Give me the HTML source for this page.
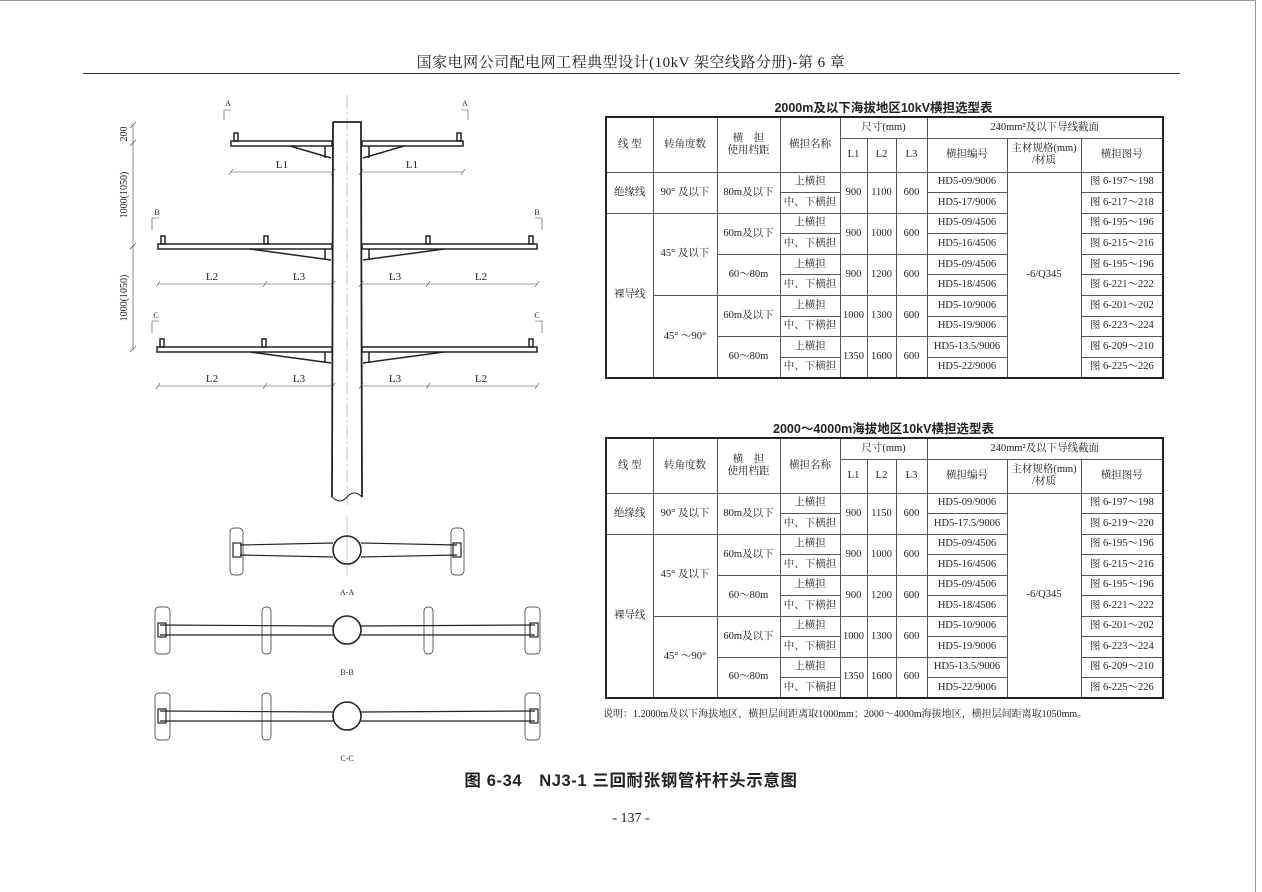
<!DOCTYPE html>
<html><head><meta charset="utf-8"><style>
body{margin:0;width:1262px;height:892px;background:#fff;position:relative;overflow:hidden;font-family:"Liberation Serif","Noto Serif CJK SC",serif;color:#222}
.abs{position:absolute}
table{border-collapse:collapse;position:absolute;left:605px;width:557px;table-layout:fixed;border:2px solid #222;font-size:10.5px}
td{border:1px solid #555;text-align:center;padding:0;line-height:12px;white-space:nowrap;overflow:hidden}
.t{font-family:"Liberation Sans","Noto Sans CJK SC",sans-serif;font-size:12.5px;font-weight:bold;left:605px;width:557px;text-align:center}
</style></head><body>
<div class="abs" style="left:0;top:0;width:1255px;height:891px;border-top:1px solid #999;border-right:1px solid #999"></div>
<div class="abs" style="left:0;top:51px;width:1262px;text-align:center;font-size:15px;letter-spacing:0.5px;font-family:'Liberation Serif','Noto Serif CJK SC',serif">国家电网公司配电网工程典型设计(10kV 架空线路分册)-第 6 章</div>
<div class="abs" style="left:83px;top:73px;width:1097px;height:1px;background:#333"></div>

<svg class="abs" style="left:0;top:0" width="600" height="780" viewBox="0 0 600 780" font-family="Liberation Serif" font-size="10" fill="none" stroke="#222">
<line x1="347" y1="95" x2="347" y2="505" stroke="#999" stroke-width="0.6" stroke-dasharray="14 3 2 3"/>
<path d="M333 122 H361 L362 497 M333 122 L332 497" stroke-width="1.8"/>
<path d="M332 497 Q340 505 347 497 Q354 489 362 497" stroke-width="1"/>
<g stroke-width="1.5">
<rect x="231" y="141" width="101" height="5"/><path d="M290 146 L331 158 M325 146 V158"/>
<rect x="362" y="141" width="101" height="5"/><path d="M404 146 L363 158 M369 146 V158"/>
<rect x="234" y="133" width="4" height="8"/><rect x="457" y="133" width="4" height="8"/>
<rect x="158" y="244" width="174" height="5"/><path d="M250 249 L331 260 M325 249 V260"/>
<rect x="362" y="244" width="175" height="5"/><path d="M444 249 L363 260 M369 249 V260"/>
<rect x="161" y="236" width="4" height="8"/><rect x="264" y="236" width="4" height="8"/><rect x="426" y="236" width="4" height="8"/><rect x="529" y="236" width="4" height="8"/>
<rect x="157" y="347" width="175" height="5"/><path d="M250 352 L331 363 M325 352 V363"/>
<rect x="362" y="347" width="175" height="5"/><path d="M444 352 L363 363 M369 352 V363"/>
<rect x="160" y="339" width="4" height="8"/><rect x="262" y="339" width="4" height="8"/><rect x="529" y="339" width="4" height="8"/>
</g>
<g stroke-width="0.6" stroke="#444">
<path d="M231 172 H333 M361 172 H463 M158 284 H333 M361 284 H537 M158 386 H333 M361 386 H537"/>
<path d="M229 175 l4 -6 M331 175 l4 -6 M359 175 l4 -6 M461 175 l4 -6"/>
<path d="M156 287 l4 -6 M263 287 l4 -6 M331 287 l4 -6 M359 287 l4 -6 M426 287 l4 -6 M535 287 l4 -6"/>
<path d="M156 389 l4 -6 M263 389 l4 -6 M331 389 l4 -6 M359 389 l4 -6 M426 389 l4 -6 M535 389 l4 -6"/>
<path d="M133 124 V350 M130 128 l6 -6 M130 146 l6 -6 M130 249 l6 -6 M130 352 l6 -6"/>
<path d="M224 110 V120 M224 110 H231 M468 110 V120 M468 110 H461 M152 218 V230 M152 218 H159 M542 218 V230 M542 218 H535 M152 321 V333 M152 321 H159 M542 321 V333 M542 321 H535"/>
</g>
<g fill="#222" stroke="none" text-anchor="middle">
<text x="282" y="168" font-size="11">L1</text><text x="412" y="168" font-size="11">L1</text>
<text x="212" y="280" font-size="11">L2</text><text x="299" y="280" font-size="11">L3</text><text x="395" y="280" font-size="11">L3</text><text x="481" y="280" font-size="11">L2</text>
<text x="212" y="382" font-size="11">L2</text><text x="299" y="382" font-size="11">L3</text><text x="395" y="382" font-size="11">L3</text><text x="481" y="382" font-size="11">L2</text>
<text x="228" y="106" font-size="8">A</text><text x="465" y="106" font-size="8">A</text>
<text x="157" y="215" font-size="8">B</text><text x="537" y="215" font-size="8">B</text>
<text x="156" y="318" font-size="8">C</text><text x="537" y="318" font-size="8">C</text>
<text transform="translate(127,134) rotate(-90)" font-size="10">200</text>
<text transform="translate(127,195) rotate(-90)" font-size="10">1000(1050)</text>
<text transform="translate(127,298) rotate(-90)" font-size="10">1000(1050)</text>
<text x="347" y="595" font-size="8">A-A</text><text x="347" y="675" font-size="8">B-B</text><text x="347" y="761" font-size="8">C-C</text>
</g>
<g stroke-width="1.2">
<line x1="347" y1="515" x2="347" y2="575" stroke="#999" stroke-width="0.5"/>
<path d="M240 545 L333 543 M240 555 L333 557 M361 543 L457 545 M361 557 L457 555"/>
<circle cx="347" cy="550" r="14" stroke-width="1.6"/>
<rect x="230" y="528" width="13" height="47" rx="4" stroke-width="0.7"/><rect x="451" y="528" width="13" height="47" rx="4" stroke-width="0.7"/>
<rect x="233" y="543" width="8" height="14"/><rect x="453" y="543" width="8" height="14"/>
<path d="M160 625 L333 626 M160 635 L333 635 M361 626 L535 625 M361 635 L535 635"/>
<circle cx="347" cy="630" r="14" stroke-width="1.6"/>
<rect x="155" y="607" width="15" height="47" rx="4" stroke-width="0.7"/><rect x="262" y="607" width="9" height="47" rx="4" stroke-width="0.7"/><rect x="424" y="607" width="9" height="47" rx="4" stroke-width="0.7"/><rect x="525" y="607" width="15" height="47" rx="4" stroke-width="0.7"/>
<rect x="158" y="623" width="8" height="14"/><rect x="530" y="623" width="8" height="14"/>
<path d="M160 711 L333 712 M160 721 L333 721 M361 712 L535 711 M361 721 L535 721"/>
<circle cx="347" cy="716" r="14" stroke-width="1.6"/>
<rect x="155" y="693" width="15" height="47" rx="4" stroke-width="0.7"/><rect x="262" y="693" width="9" height="47" rx="4" stroke-width="0.7"/><rect x="525" y="693" width="15" height="47" rx="4" stroke-width="0.7"/>
<rect x="158" y="709" width="8" height="14"/><rect x="530" y="709" width="8" height="14"/>
</g>
</svg>

<div class="abs t" style="top:97px">2000m及以下海拔地区10kV横担选型表</div>
<table style="top:116px">
<colgroup><col style="width:47px"><col style="width:64px"><col style="width:63px"><col style="width:60px"><col style="width:27px"><col style="width:29px"><col style="width:31px"><col style="width:80px"><col style="width:74px"><col style="width:82px"></colgroup>
<tr style="height:21px"><td rowspan="2">线 型</td><td rowspan="2">转角度数</td><td rowspan="2">横&nbsp;&nbsp;&nbsp;&nbsp;担<br>使用档距</td><td rowspan="2">横担名称</td><td colspan="3">尺寸(mm)</td><td colspan="3">240mm²及以下导线截面</td></tr>
<tr style="height:34px"><td>L1</td><td>L2</td><td>L3</td><td>横担编号</td><td>主材规格(mm)<br>/材质</td><td>横担图号</td></tr>
<tr style="height:20.6px"><td rowspan="2">绝缘线</td><td rowspan="2">90° 及以下</td><td rowspan="2">80m及以下</td><td>上横担</td><td rowspan="2">900</td><td rowspan="2">1100</td><td rowspan="2">600</td><td>HD5-09/9006</td><td rowspan="10">-6/Q345</td><td>图 6-197～198</td></tr>
<tr style="height:20.6px"><td>中、下横担</td><td>HD5-17/9006</td><td>图 6-217～218</td></tr>
<tr style="height:20.6px"><td rowspan="8">裸导线</td><td rowspan="4">45° 及以下</td><td rowspan="2">60m及以下</td><td>上横担</td><td rowspan="2">900</td><td rowspan="2">1000</td><td rowspan="2">600</td><td>HD5-09/4506</td><td>图 6-195～196</td></tr>
<tr style="height:20.6px"><td>中、下横担</td><td>HD5-16/4506</td><td>图 6-215～216</td></tr>
<tr style="height:20.6px"><td rowspan="2">60～80m</td><td>上横担</td><td rowspan="2">900</td><td rowspan="2">1200</td><td rowspan="2">600</td><td>HD5-09/4506</td><td>图 6-195～196</td></tr>
<tr style="height:20.6px"><td>中、下横担</td><td>HD5-18/4506</td><td>图 6-221～222</td></tr>
<tr style="height:20.6px"><td rowspan="4">45° ～90°</td><td rowspan="2">60m及以下</td><td>上横担</td><td rowspan="2">1000</td><td rowspan="2">1300</td><td rowspan="2">600</td><td>HD5-10/9006</td><td>图 6-201～202</td></tr>
<tr style="height:20.6px"><td>中、下横担</td><td>HD5-19/9006</td><td>图 6-223～224</td></tr>
<tr style="height:20.6px"><td rowspan="2">60～80m</td><td>上横担</td><td rowspan="2">1350</td><td rowspan="2">1600</td><td rowspan="2">600</td><td>HD5-13.5/9006</td><td>图 6-209～210</td></tr>
<tr style="height:20.6px"><td>中、下横担</td><td>HD5-22/9006</td><td>图 6-225～226</td></tr>
</table>

<div class="abs t" style="top:418px">2000～4000m海拔地区10kV横担选型表</div>
<table style="top:437px">
<colgroup><col style="width:47px"><col style="width:64px"><col style="width:63px"><col style="width:60px"><col style="width:27px"><col style="width:29px"><col style="width:31px"><col style="width:80px"><col style="width:74px"><col style="width:82px"></colgroup>
<tr style="height:21px"><td rowspan="2">线 型</td><td rowspan="2">转角度数</td><td rowspan="2">横&nbsp;&nbsp;&nbsp;&nbsp;担<br>使用档距</td><td rowspan="2">横担名称</td><td colspan="3">尺寸(mm)</td><td colspan="3">240mm²及以下导线截面</td></tr>
<tr style="height:34px"><td>L1</td><td>L2</td><td>L3</td><td>横担编号</td><td>主材规格(mm)<br>/材质</td><td>横担图号</td></tr>
<tr style="height:20.5px"><td rowspan="2">绝缘线</td><td rowspan="2">90° 及以下</td><td rowspan="2">80m及以下</td><td>上横担</td><td rowspan="2">900</td><td rowspan="2">1150</td><td rowspan="2">600</td><td>HD5-09/9006</td><td rowspan="10">-6/Q345</td><td>图 6-197～198</td></tr>
<tr style="height:20.5px"><td>中、下横担</td><td>HD5-17.5/9006</td><td>图 6-219～220</td></tr>
<tr style="height:20.5px"><td rowspan="8">裸导线</td><td rowspan="4">45° 及以下</td><td rowspan="2">60m及以下</td><td>上横担</td><td rowspan="2">900</td><td rowspan="2">1000</td><td rowspan="2">600</td><td>HD5-09/4506</td><td>图 6-195～196</td></tr>
<tr style="height:20.5px"><td>中、下横担</td><td>HD5-16/4506</td><td>图 6-215～216</td></tr>
<tr style="height:20.5px"><td rowspan="2">60～80m</td><td>上横担</td><td rowspan="2">900</td><td rowspan="2">1200</td><td rowspan="2">600</td><td>HD5-09/4506</td><td>图 6-195～196</td></tr>
<tr style="height:20.5px"><td>中、下横担</td><td>HD5-18/4506</td><td>图 6-221～222</td></tr>
<tr style="height:20.5px"><td rowspan="4">45° ～90°</td><td rowspan="2">60m及以下</td><td>上横担</td><td rowspan="2">1000</td><td rowspan="2">1300</td><td rowspan="2">600</td><td>HD5-10/9006</td><td>图 6-201～202</td></tr>
<tr style="height:20.5px"><td>中、下横担</td><td>HD5-19/9006</td><td>图 6-223～224</td></tr>
<tr style="height:20.5px"><td rowspan="2">60～80m</td><td>上横担</td><td rowspan="2">1350</td><td rowspan="2">1600</td><td rowspan="2">600</td><td>HD5-13.5/9006</td><td>图 6-209～210</td></tr>
<tr style="height:20.5px"><td>中、下横担</td><td>HD5-22/9006</td><td>图 6-225～226</td></tr>
</table>

<div class="abs" style="left:603px;top:705px;font-size:10px">说明：1.2000m及以下海拔地区，横担层间距离取1000mm；2000～4000m海拔地区，横担层间距离取1050mm。</div>
<div class="abs" style="left:0;top:767px;width:1262px;text-align:center;font-size:16.5px;letter-spacing:0.6px;font-weight:bold;font-family:'Liberation Sans','Noto Sans CJK SC',sans-serif">图 6-34　NJ3-1 三回耐张钢管杆杆头示意图</div>
<div class="abs" style="left:0;top:811px;width:1262px;text-align:center;font-size:14px">- 137 -</div>
</body></html>
